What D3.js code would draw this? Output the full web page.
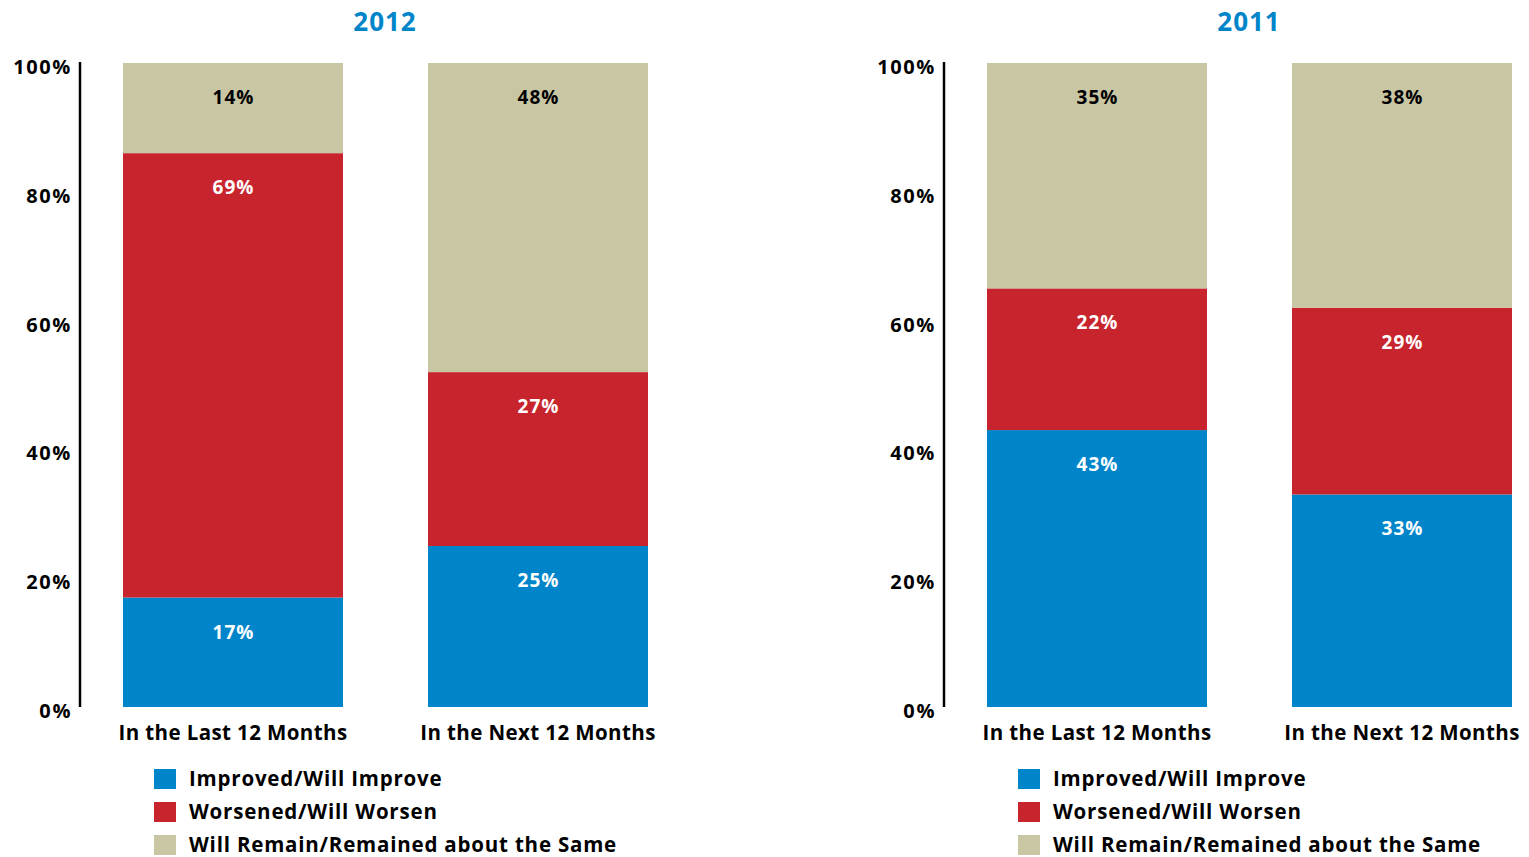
<!DOCTYPE html>
<html><head><meta charset="utf-8">
<script src="https://cdn.jsdelivr.net/npm/d3@7"></script>
<style>
body{margin:0;background:#fff;}
text{font-family:"Open Sans",sans-serif;font-weight:700;}
</style></head>
<body><svg id="c" width="1529" height="857"></svg>
<script>
const panels = ["2012","2011"];
const categories = ["In the Last 12 Months","In the Next 12 Months"];
const seriesNames = ["Improved/Will Improve","Worsened/Will Worsen","Will Remain/Remained about the Same"];
const improved = {"2012":[17,25],"2011":[43,33]};
const worsened = {"2012":[69,27],"2011":[22,29]};
const same = {"2012":[14,48],"2011":[35,38]};
const tickValues = [0,20,40,60,80,100];
const colors = ["#0085CA","#C8242D","#C9C6A3"];
const labelColors = ["#fff","#fff","#000"];
const keys = ["improved","worsened","same"];

const svg = d3.select("#c");
const y = d3.scaleLinear().domain([0,100]).range([707,63]);

panels.forEach((p,pi)=>{
  const ox = pi*864;
  const g = svg.append("g").attr("transform",`translate(${ox},0)`);
  const rows = categories.map((c,i)=>({cat:c, improved:improved[p][i], worsened:worsened[p][i], same:same[p][i]}));
  const stack = d3.stack().keys(keys)(rows);
  const x = d3.scaleBand().domain(categories).range([123,648]).paddingInner(85/305).paddingOuter(0);

  g.append("text").attr("x",385).attr("y",31).attr("text-anchor","middle")
    .attr("fill","#0085CA").attr("font-size",26).attr("letter-spacing",1).text(p);

  stack.forEach((s,si)=>{
    g.selectAll(null).data(s).enter().append("rect")
      .attr("x",d=>x(d.data.cat)).attr("width",x.bandwidth())
      .attr("y",d=>y(d[1])).attr("height",d=>y(d[0])-y(d[1]))
      .attr("fill",colors[si]);
    g.selectAll(null).data(s).enter().append("text")
      .attr("x",d=>x(d.data.cat)+x.bandwidth()/2+0.5).attr("y",d=>y(d[1])+41)
      .attr("text-anchor","middle").attr("font-size",19).attr("letter-spacing",1).attr("fill",labelColors[si])
      .text(d=>(d[1]-d[0])+"%");
  });

  const ax = g.append("g").attr("transform","translate(80,0)")
    .call(d3.axisLeft(y).tickValues(tickValues).tickFormat(d=>d+"%").tickSize(0).tickSizeOuter(0).tickPadding(8));
  ax.select(".domain").attr("stroke","#000").attr("stroke-width",2.5).attr("d","M0,707V62");
  ax.selectAll(".tick text").attr("font-size",20).attr("font-family","'Open Sans',sans-serif").attr("font-weight",700)
    .attr("fill","#000").attr("dy","0.52em").attr("letter-spacing",1.6);

  categories.forEach(c=>{
    g.append("text").attr("x",x(c)+x.bandwidth()/2).attr("y",740).attr("text-anchor","middle")
      .attr("font-size",20.5).attr("letter-spacing",0.4).attr("fill","#000").text(c);
  });

  seriesNames.forEach((n,i)=>{
    const ly = 769 + i*33;
    g.append("rect").attr("x",154).attr("y",ly).attr("width",22).attr("height",20).attr("fill",colors[i]);
    g.append("text").attr("x",189).attr("y",ly+17).attr("font-size",20.5).attr("letter-spacing",0.8).attr("fill","#000").text(n);
  });
});
</script></body></html>
